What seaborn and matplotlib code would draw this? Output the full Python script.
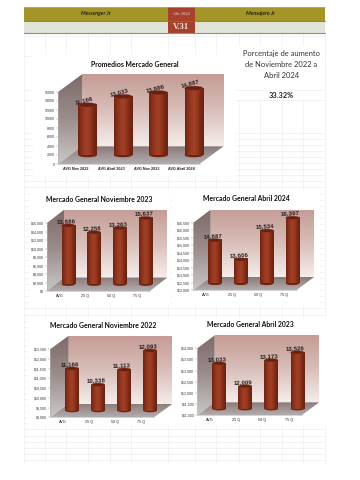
import numpy as np
import pandas as pd
import matplotlib
matplotlib.use("Agg")
import matplotlib.pyplot as plt
from matplotlib.colors import LinearSegmentedColormap
from matplotlib.patches import Ellipse, Polygon, Rectangle
import seaborn as sns

sns.set_theme(style="white")
plt.rcParams['font.family'] = ['Liberation Sans', 'DejaVu Sans']

# ---------- data ----------
cats_main = ["AVG Nov 2022", "AVG Abril 2023", "AVG Nov 2023", "AVG Abril 2024"]
vals_main = [11166, 13033, 13886, 14887]
cats_q = ["AVG", "25 Q", "50 Q", "75 Q"]
vals_nov23 = [13886, 12258, 13263, 15637]
vals_abr24 = [14887, 13606, 15534, 16397]
vals_nov22 = [11166, 10338, 11113, 12093]
vals_abr23 = [13033, 12009, 13173, 13526]
ticks_main = [0, 2000, 4000, 6000, 8000, 10000, 12000, 14000, 16000]
ticks_nov23 = [0, 2000, 4000, 6000, 8000, 10000, 12000, 14000, 16000]
ticks_abr24 = [12000, 12500, 13000, 13500, 14000, 14500, 15000, 15500, 16000, 16500]
ticks_nov22 = [9000, 9500, 10000, 10500, 11000, 11500, 12000, 12500]
ticks_abr23 = [11000, 11500, 12000, 12500, 13000, 13500, 14000]

W, H = 360, 480
fig = plt.figure(figsize=(W / 100, H / 100), dpi=100, facecolor="white")


def px_axes(x0, y0, x1, y1, **kw):
    """Axes placed with pixel corners (y from top)."""
    return fig.add_axes([x0 / W, 1 - y1 / H, (x1 - x0) / W, (y1 - y0) / H], **kw)


bg = px_axes(0, 0, W, H)
bg.set_xlim(0, W)
bg.set_ylim(H, 0)
bg.axis("off")

# ---------- spreadsheet grid ----------
GRID = "#EFEFEF"
vx = [23.5, 44.5, 66, 87.5, 109.5, 130.5, 167.5, 195, 216, 238.5, 259.5, 281.5, 303, 325]
for x in vx:
    bg.plot([x, x], [33, 462.5], color=GRID, lw=0.5, zorder=1)
for y in [36, 56, 90, 100] + list(np.arange(133, 463, 6.05)):
    bg.plot([23.5, 325], [y, y], color=GRID, lw=0.5, zorder=1)

panels = [(33, 55, 236, 176), (236, 46, 325, 100), (30, 190, 170, 305),
          (172, 190, 320, 306), (28, 318, 172, 426), (172, 318, 325.5, 426)]
for x0, y0, x1, y1 in panels:
    bg.add_patch(Rectangle((x0, y0), x1 - x0, y1 - y0, fc="white", ec="none", zorder=2))
for y in [90, 100]:
    bg.plot([236, 325], [y, y], color=GRID, lw=0.5, zorder=3)

# ---------- header ----------
bg.add_patch(Rectangle((23.5, 7), 301.5, 13.5, fc="#A39528", ec="none", zorder=4))
bg.add_patch(Rectangle((23.5, 20.5), 301.5, 12.5, fc="#E0E3D5", ec="none", zorder=4))
bg.add_patch(Rectangle((167.5, 7), 27.5, 26, fc="#A8412C", ec="none", zorder=5))
bg.plot([23.5, 325], [20.5, 20.5], color="#77733F", lw=0.6, zorder=6)
bg.plot([23.5, 325], [33.3, 33.3], color="#8E8E84", lw=0.8, zorder=6)
bg.plot([23.5, 325], [6.8, 6.8], color="#C4BC7A", lw=0.4, zorder=6)
lato = ['Lato', 'DejaVu Sans']
bg.text(95.5, 13.8, "Messenger Jr", fontsize=3.9, style="italic", fontweight="bold",
        family=lato, ha="center", va="center", color="#222210", zorder=7)
bg.text(260, 13.8, "Mensajero Jr", fontsize=3.9, style="italic", fontweight="bold",
        family=lato, ha="center", va="center", color="#222210", zorder=7)
bg.text(181, 13.6, "Abr 2024", fontsize=3.2, family=['Liberation Serif'], ha="center",
        va="center", color="#F0D8CC", zorder=7)
bg.text(181, 27, "V.31", fontsize=6.3, fontweight="bold", family=['Liberation Serif'],
        ha="center", va="center", color="#F2E4DA", zorder=7)

# ---------- side text ----------
for y, s in zip([53.5, 64.3, 75], ["Porcentaje de aumento", "de Noviembre 2022 a", "Abril 2024"]):
    bg.text(281.5, y, s, fontsize=5.45, family=lato, ha="center", va="center",
            color="#333333", zorder=7)
bg.text(281.5, 95.3, "33.32%", fontsize=5.3, fontweight="bold", family=lato,
        ha="center", va="center", color="#222222", zorder=7)

# ---------- charts ----------
wall_cm = LinearSegmentedColormap.from_list("wall", ["#C59C96", "#D9BEB9", "#F5ECEA"])
left_cm = LinearSegmentedColormap.from_list("left", ["#7E6A69", "#9C8E8D", "#C9C6C6"])
floor_cm = LinearSegmentedColormap.from_list("floor", ["#8A7A79", "#B3ACAC"])
bar_cm = LinearSegmentedColormap.from_list(
    "bar", ["#6E2513", "#88301B", "#9A3A22", "#A04027", "#93361E", "#7A2814", "#6A2211"])
GRAD = np.linspace(0, 1, 64)


def fill_gradient(ax, pts, cmap):
    xs, ys = zip(*pts)
    poly = Polygon(pts, closed=True, fc="none", ec="none", transform=ax.transData, zorder=3)
    ax.add_patch(poly)
    im = ax.imshow(GRAD[:, None], cmap=cmap, aspect="auto", zorder=3,
                   extent=[min(xs), max(xs), max(ys), min(ys)], interpolation="bilinear")
    im.set_clip_path(poly)


def chart(title, title_xy, cats, vals, ticks, tfmt, box, rot, ell_h):
    xl, xr, yt, yb, dx, dy = box
    # walls and floor, in page pixels
    fill_gradient(bg, [(xl + dx, yt - dy), (xr + dx, yt - dy), (xr + dx, yb - dy), (xl + dx, yb - dy)], wall_cm)
    fill_gradient(bg, [(xl, yt), (xl + dx, yt - dy), (xl + dx, yb - dy), (xl, yb)], left_cm)
    fill_gradient(bg, [(xl, yb), (xr, yb), (xr + dx, yb - dy), (xl + dx, yb - dy)], floor_cm)
    bg.set_xlim(0, W)
    bg.set_ylim(H, 0)
    bg.text(title_xy[0], title_xy[1], title, fontsize=4.95, fontweight="bold", family=lato,
            ha="center", va="center", color="#111111", zorder=7)

    # front plane: value and category axes
    fr = px_axes(xl, yt, xr, yb, facecolor="none")
    fr.set_xlim(-0.5, 3.5)
    fr.set_ylim(ticks[0], ticks[-1])
    fr.set_yticks(ticks)
    fr.set_yticklabels([tfmt.format(t) for t in ticks], fontsize=2.6, color="#333333")
    fr.set_xticks(range(4))
    fr.set_xticklabels(cats, fontsize=2.7, color="#222222", fontweight="bold" if len(cats[0]) > 4 else "normal")
    fr.tick_params(axis="both", length=1.2, width=0.3, pad=1.0, color="#999999", left=True, bottom=False)
    for s in ("top", "right"):
        fr.spines[s].set_visible(False)
    for s in ("left", "bottom"):
        fr.spines[s].set_color("#B5B5B5")
        fr.spines[s].set_linewidth(0.4)

    # bars, shifted to the middle of the depth
    ax = px_axes(xl + dx / 2, yt - dy / 2, xr + dx / 2, yb - dy / 2, facecolor="none")
    df = pd.DataFrame({"cat": cats, "val": vals})
    sns.barplot(data=df, x="cat", y="val", ax=ax, width=0.52, color="#8E3019", saturation=1)
    ax.set_xlim(-0.5, 3.5)
    ax.set_ylim(ticks[0], ticks[-1])
    ax.axis("off")
    per_px = (ticks[-1] - ticks[0]) / (yb - yt)
    for patch, v in zip(ax.patches[:4], vals):
        x0, w = patch.get_x(), patch.get_width()
        cx = x0 + w / 2
        patch.set_visible(False)
        ax.add_patch(Ellipse((cx, ticks[0]), w, ell_h * per_px, fc="#6E2412", ec="none",
                             clip_on=False, zorder=2))
        ax.imshow(GRAD[None, :], cmap=bar_cm, aspect="auto", zorder=3,
                  extent=[x0, x0 + w, ticks[0], v], interpolation="bilinear")
        ax.add_patch(Ellipse((cx, v), w, ell_h * per_px, fc="#6A2010", ec="#8A3A24", lw=0.25,
                             clip_on=False, zorder=4))
        ax.text(cx - 0.08, v + (ell_h / 2 + 0.2) * per_px, f"{v:,}", fontsize=4.4, fontweight="bold",
                rotation=rot, rotation_mode="anchor", ha="center", va="bottom",
                color="#262020", clip_on=False, zorder=5)
    ax.set_xlim(-0.5, 3.5)
    ax.set_ylim(ticks[0], ticks[-1])


chart("Promedios Mercado General", (134.7, 64.3), cats_main, vals_main, ticks_main, "{}",
      (58, 199.5, 92, 164, 24, 17.7), 15, 4.2)
chart("Mercado General Noviembre 2023", (99.5, 199.7), cats_q, vals_nov23, ticks_nov23, "${:,}",
      (46.7, 150, 223.3, 291, 17.3, 13.5), 2, 3.2)
chart("Mercado General Abril 2024", (246, 198.7), cats_q, vals_abr24, ticks_abr24, "${:,}",
      (193.3, 296.7, 222.7, 290, 17.4, 13), 3, 3.2)
chart("Mercado General Noviembre 2022", (103, 325.7), cats_q, vals_nov22, ticks_nov22, "${:,}",
      (50, 154, 349.3, 417.3, 18.3, 13.3), 2, 3.2)
chart("Mercado General Abril 2023", (250, 324.7), cats_q, vals_abr23, ticks_abr23, "${:,}",
      (197.3, 301.7, 348.3, 415.3, 17.4, 13), 2, 3.2)

fig.savefig("out.png", dpi=100)
